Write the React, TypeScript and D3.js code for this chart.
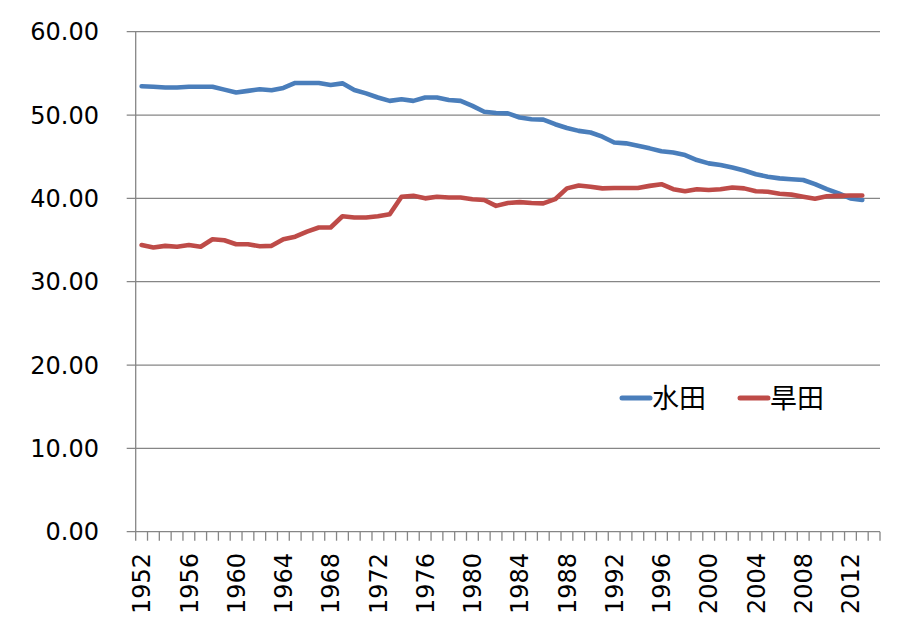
import * as d3 from "d3";

// Paddy (水田) vs dry field (旱田) share, 1952-2013. Axis runs to 2014 (empty).

const YEARS = d3.range(1952, 2015);

const PADDY = [
  53.45, 53.4, 53.3, 53.3, 53.4, 53.4, 53.4, 53.05, 52.7, 52.9,
  53.1, 52.97, 53.25, 53.85, 53.85, 53.85, 53.6, 53.8, 53.0, 52.6,
  52.1, 51.7, 51.9, 51.7, 52.1, 52.1, 51.8, 51.7, 51.1, 50.4,
  50.25, 50.2, 49.7, 49.5, 49.45, 48.9, 48.45, 48.1, 47.9, 47.4,
  46.7, 46.6, 46.3, 46.0, 45.65, 45.5, 45.2, 44.6, 44.2, 44.0,
  43.7, 43.35, 42.9, 42.6, 42.4, 42.3, 42.2, 41.7, 41.1, 40.6,
  40.0, 39.8,
];

const DRY = [
  34.4, 34.1, 34.3, 34.2, 34.4, 34.2, 35.1, 34.97, 34.5, 34.5,
  34.25, 34.3, 35.1, 35.4, 36.0, 36.5, 36.5, 37.85, 37.7, 37.7,
  37.85, 38.1, 40.2, 40.3, 40.0, 40.2, 40.1, 40.1, 39.9, 39.8,
  39.1, 39.45, 39.55, 39.45, 39.4, 39.9, 41.2, 41.55, 41.4, 41.2,
  41.25, 41.25, 41.25, 41.5, 41.7, 41.1, 40.85, 41.1, 41.0, 41.1,
  41.3, 41.2, 40.85, 40.8, 40.55, 40.45, 40.2, 39.95, 40.25, 40.3,
  40.35, 40.35,
];

const Y_TICKS = [0, 10, 20, 30, 40, 50, 60];
const X_LABEL_YEARS = d3.range(1952, 2013, 4);

const SERIES = [
  { name: "水田", values: PADDY, color: "#4a7ebb" },
  { name: "旱田", values: DRY, color: "#be4b48" },
];

// ---------------------------------------------------------------------------
// Layout / style
// ---------------------------------------------------------------------------

const W = 899;
const H = 637;
const PLOT = { left: 135.7, right: 880, top: 31.7, bottom: 531.7 };
const GRID = "#868686";
const FONT = "'DejaVu Sans', Verdana, sans-serif";
const CJK_FONT = "'Noto Sans CJK TC', 'Noto Sans CJK SC', sans-serif";
const TICK_LEN = 9;

export default function App() {
  const x = d3
    .scaleBand<number>()
    .domain(YEARS)
    .range([PLOT.left, PLOT.right])
    .paddingInner(0)
    .paddingOuter(0);
  const cx = (yr: number) => (x(yr) ?? 0) + x.bandwidth() / 2;

  const y = d3.scaleLinear().domain([0, 60]).range([PLOT.bottom, PLOT.top]);

  const line = d3
    .line<number>()
    .x((_, i) => cx(YEARS[i]))
    .y((v) => y(v));

  // category boundaries for x ticks
  const boundaries = YEARS.map((yr) => x(yr) ?? 0).concat([PLOT.right]);

  return (
    <svg
      width={W}
      height={H}
      style={{ position: "absolute", left: 0, top: 0, background: "#fff" }}
    >
      <rect width={W} height={H} fill="#fff" />

      {/* gridlines + y tick marks */}
      {Y_TICKS.map((t) => (
        <line
          key={`g${t}`}
          x1={PLOT.left - TICK_LEN}
          x2={PLOT.right}
          y1={y(t)}
          y2={y(t)}
          stroke={GRID}
          strokeWidth={1.3}
        />
      ))}

      {/* y axis line */}
      <line
        x1={PLOT.left}
        x2={PLOT.left}
        y1={PLOT.top}
        y2={PLOT.bottom}
        stroke={GRID}
        strokeWidth={1.3}
      />

      {/* x tick marks */}
      {boundaries.map((bx, i) => (
        <line
          key={`xt${i}`}
          x1={bx}
          x2={bx}
          y1={PLOT.bottom}
          y2={PLOT.bottom + TICK_LEN}
          stroke={GRID}
          strokeWidth={1.3}
        />
      ))}

      {/* y labels */}
      {Y_TICKS.map((t) => (
        <text
          key={`yl${t}`}
          x={99}
          y={y(t)}
          dy="0.36em"
          textAnchor="end"
          fontSize={24}
          fontFamily={FONT}
          fill="#000"
        >
          {t.toFixed(2)}
        </text>
      ))}

      {/* x labels, rotated */}
      {X_LABEL_YEARS.map((yr) => (
        <text
          key={`xl${yr}`}
          transform={`translate(${cx(yr)},553) rotate(-90)`}
          dy="0.36em"
          textAnchor="end"
          fontSize={24}
          fontFamily={FONT}
          fill="#000"
        >
          {yr}
        </text>
      ))}

      {/* series */}
      {SERIES.map((s) => (
        <path
          key={s.name}
          d={line(s.values) ?? ""}
          fill="none"
          stroke={s.color}
          strokeWidth={4.6}
          strokeLinejoin="round"
          strokeLinecap="round"
        />
      ))}

      {/* legend */}
      {SERIES.map((s, i) => {
        const lx = 622 + i * 118;
        return (
          <g key={`lg${s.name}`}>
            <line
              x1={lx}
              x2={lx + 28}
              y1={398}
              y2={398}
              stroke={s.color}
              strokeWidth={5}
              strokeLinecap="round"
            />
            <text
              x={lx + 30}
              y={398}
              dy="0.36em"
              fontSize={27}
              fontFamily={CJK_FONT}
              fill="#000"
            >
              {s.name}
            </text>
          </g>
        );
      })}
    </svg>
  );
}
